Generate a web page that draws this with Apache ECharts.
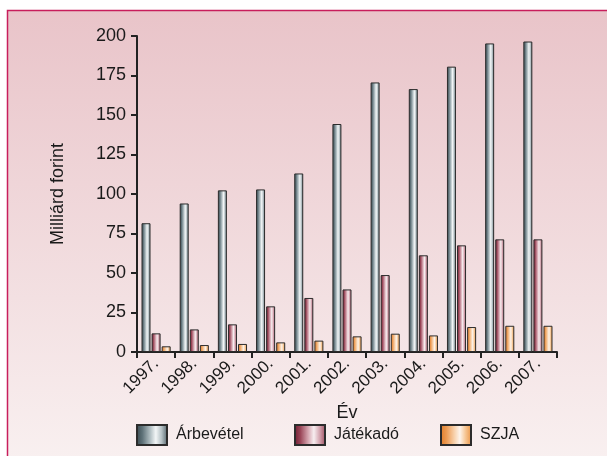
<!DOCTYPE html>
<html>
<head>
<meta charset="utf-8">
<script src="https://cdn.jsdelivr.net/npm/echarts@6/dist/echarts.min.js"></script>
<style>
  html, body { margin: 0; padding: 0; background: #ffffff; }
  #chart { width: 607px; height: 456px; }
</style>
</head>
<body>
<div id="chart"></div>
<script>
// Years shown on the category axis
const years = ['1997.', '1998.', '1999.', '2000.', '2001.', '2002.', '2003.', '2004.', '2005.', '2006.', '2007.'];

// Values in billion forints
const arbevetel = [81.5, 94, 102.3, 102.9, 113, 144.3, 170.6, 166.4, 180.6, 195.3, 196.5];
const jatekado  = [11.8, 14.3, 17.5, 28.9, 34.2, 39.6, 48.7, 61.2, 67.5, 71.3, 71.3];
const szja      = [3.6, 4.4, 5.1, 6.1, 7.2, 9.9, 11.6, 10.5, 15.8, 16.6, 16.6];

// Value axis ticks
const yTicks = [0, 25, 50, 75, 100, 125, 150, 175, 200];

const FONT = '"Liberation Sans", Arial, Helvetica, sans-serif';

function cylinder(stops) {
  return new echarts.graphic.LinearGradient(0, 0, 1, 0,
    stops.map(s => ({ offset: s[0], color: s[1] })));
}

const grayFill = cylinder([[0, '#38494f'], [0.2, '#5f7279'], [0.45, '#b3c0c4'], [0.62, '#f3f6f7'], [0.8, '#b5c1c5'], [1, '#4f6067']]);
const redFill  = cylinder([[0, '#6e1a30'], [0.2, '#9a4658'], [0.45, '#d7a9b3'], [0.62, '#f7eef0'], [0.8, '#d4a5b0'], [1, '#9a4a5c']]);
const orFill   = cylinder([[0, '#e07b26'], [0.2, '#ec9a52'], [0.45, '#f8d2ad'], [0.62, '#fdf4ec'], [0.8, '#f6c592'], [1, '#ea913f']]);

const chart = echarts.init(document.getElementById('chart'), null, { renderer: 'canvas' });

function legendAt(name, left) {
  return {
    data: [name],
    left: left,
    top: 424,
    padding: 0,
    itemWidth: 30,
    itemHeight: 20,
    itemGap: 8,
    icon: 'rect',
    selectedMode: false,
    textStyle: { fontFamily: FONT, fontSize: 16, color: '#1a1a1a', padding: [0, 0, 0, 4] }
  };
}

const barStyle = (fill) => ({ color: fill, borderColor: '#2c2c2c', borderWidth: 1 });

chart.setOption({
  animation: false,
  graphic: [{
    type: 'rect',
    z: -10,
    silent: true,
    shape: { x: 7.5, y: 10.5, width: 610, height: 460 },
    style: {
      fill: new echarts.graphic.LinearGradient(0, 0, 0, 1, [
        { offset: 0, color: '#e9c4c9' },
        { offset: 1, color: '#f9f1f1' }
      ]),
      stroke: '#c81e5c',
      lineWidth: 1.5
    }
  }],
  legend: [
    legendAt('Árbevétel', 136),
    legendAt('Játékadó', 294),
    legendAt('SZJA', 440)
  ],
  grid: { left: 137, right: 50, top: 36, bottom: 104, containLabel: false },
  xAxis: {
    type: 'category',
    data: years,
    name: 'Év',
    nameLocation: 'middle',
    nameGap: 45,
    nameTextStyle: { fontFamily: FONT, fontSize: 18, color: '#1a1a1a' },
    axisLine: { lineStyle: { color: '#222', width: 2 } },
    axisTick: { show: true, length: 6, lineStyle: { color: '#222', width: 2 } },
    axisLabel: { rotate: 45, margin: 9, fontFamily: FONT, fontSize: 17, color: '#1a1a1a', interval: 0 }
  },
  yAxis: {
    type: 'value',
    min: yTicks[0],
    max: yTicks[yTicks.length - 1],
    interval: yTicks[1] - yTicks[0],
    name: 'Milliárd forint',
    nameLocation: 'middle',
    nameRotate: 90,
    nameGap: 70,
    nameTextStyle: { fontFamily: FONT, fontSize: 18, color: '#1a1a1a' },
    axisLine: { show: true, lineStyle: { color: '#222', width: 2 } },
    axisTick: { show: true, length: 6, lineStyle: { color: '#222', width: 2 } },
    splitLine: { show: false },
    axisLabel: { margin: 11, fontFamily: FONT, fontSize: 18, color: '#1a1a1a' }
  },
  series: [
    { name: 'Árbevétel', type: 'bar', data: arbevetel, barWidth: 9, barGap: '12%', itemStyle: barStyle(grayFill) },
    { name: 'Játékadó',  type: 'bar', data: jatekado,  barWidth: 9, barGap: '12%', itemStyle: barStyle(redFill) },
    { name: 'SZJA',      type: 'bar', data: szja,      barWidth: 9, barGap: '12%', itemStyle: barStyle(orFill) }
  ]
});
</script>
</body>
</html>
